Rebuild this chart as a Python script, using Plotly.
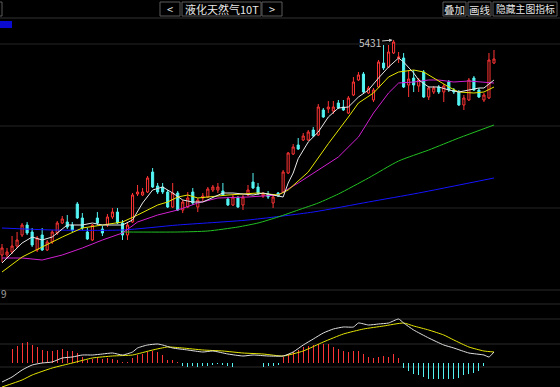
import plotly.graph_objects as go

W, H = 560, 387

# ---------------- data ----------------
idx = list(range(99))

opens = [4786, 4786, 4795, 4813, 4846, 4876, 4855, 4801, 4846, 4801,
         4825, 4852, 4882, 4885, 4876, 4939, 4897, 4855, 4831, 4897,
         4864, 4876, 4900, 4915, 4882, 4846, 4885, 4969, 4966, 4975,
         5035, 4993, 4990, 4975, 4930, 4972, 4921, 4930, 4975, 4930,
         4957, 4960, 4981, 4981, 4978, 4954, 4936, 4957, 4936, 4966,
         5005, 4990, 4963, 4969, 4942, 4972, 4975, 5032, 5089, 5116,
         5131, 5131, 5161, 5146, 5221, 5224, 5218, 5242, 5230, 5212,
         5266, 5311, 5329, 5272, 5251, 5290, 5362, 5350, 5392, 5377,
         5377, 5296, 5317, 5293, 5335, 5260, 5275, 5290, 5275, 5305,
         5281, 5275, 5236, 5251, 5317, 5281, 5251, 5257, 5362]

closes = [4807, 4795, 4813, 4831, 4876, 4852, 4816, 4837, 4801, 4825,
          4855, 4882, 4894, 4870, 4861, 4897, 4867, 4834, 4876, 4882,
          4852, 4900, 4915, 4882, 4846, 4876, 4966, 4975, 4975, 5017,
          4990, 4975, 4975, 4930, 4972, 4921, 4945, 4957, 4942, 4951,
          4963, 4984, 4990, 4990, 4966, 4936, 4960, 4930, 4960, 4981,
          4987, 4972, 4969, 4960, 4960, 4963, 5035, 5092, 5110, 5104,
          5143, 5155, 5143, 5230, 5200, 5230, 5230, 5227, 5221, 5257,
          5305, 5326, 5275, 5287, 5281, 5365, 5347, 5395, 5425, 5380,
          5290, 5314, 5296, 5311, 5260, 5287, 5287, 5275, 5293, 5281,
          5275, 5236, 5257, 5311, 5281, 5260, 5266, 5371, 5374]

highs = [4819, 4807, 4843, 4855, 4882, 4885, 4867, 4843, 4867, 4831,
         4861, 4888, 4903, 4906, 4885, 4945, 4912, 4867, 4879, 4915,
         4873, 4909, 4927, 4927, 4891, 4885, 4972, 4996, 4987, 5023,
         5047, 5002, 5002, 4981, 5002, 4978, 4951, 4975, 4987, 4957,
         4972, 4990, 4996, 5002, 5002, 4960, 4966, 4963, 4966, 4996,
         5032, 5002, 4975, 4978, 4966, 4975, 5041, 5095, 5119, 5137,
         5152, 5161, 5170, 5239, 5227, 5248, 5248, 5251, 5251, 5263,
         5320, 5335, 5335, 5293, 5287, 5371, 5416, 5416, 5431, 5395,
         5392, 5341, 5341, 5317, 5341, 5293, 5293, 5296, 5299, 5311,
         5287, 5281, 5266, 5317, 5323, 5287, 5272, 5392, 5401]

lows = [4765, 4777, 4789, 4807, 4840, 4846, 4810, 4795, 4798, 4798,
        4819, 4846, 4879, 4864, 4855, 4894, 4861, 4831, 4828, 4876,
        4843, 4870, 4894, 4879, 4831, 4831, 4882, 4963, 4963, 4972,
        4987, 4969, 4969, 4927, 4927, 4918, 4912, 4927, 4936, 4915,
        4948, 4957, 4975, 4972, 4963, 4933, 4933, 4927, 4921, 4963,
        4984, 4966, 4957, 4954, 4927, 4960, 4972, 5029, 5086, 5101,
        5128, 5128, 5140, 5143, 5197, 5212, 5209, 5224, 5218, 5209,
        5263, 5308, 5269, 5269, 5245, 5287, 5341, 5347, 5389, 5362,
        5287, 5260, 5275, 5275, 5257, 5251, 5269, 5269, 5245, 5275,
        5269, 5233, 5221, 5248, 5278, 5257, 5245, 5254, 5359]

ma5_idx = [0, 4, 6, 8, 10, 13, 16, 18, 20, 22, 24, 26, 28, 30, 32, 34, 36, 38, 40, 44,
           46, 50, 52, 54, 56, 57, 58, 59, 61, 63, 65, 67, 69, 71, 73, 75, 77, 79, 80, 82,
           83, 85, 87, 89, 91, 93, 95, 96, 98]
ma5_val = [4762, 4822, 4840, 4831, 4840, 4876, 4876, 4882, 4876, 4876, 4876, 4891, 4942, 4981,
           4990, 4972, 4951, 4945, 4945, 4972, 4972, 4966, 4972, 4966, 4960, 5002, 5032, 5075,
           5125, 5155, 5200, 5227, 5230, 5260, 5281, 5317, 5350, 5377, 5365, 5332, 5311, 5290,
           5290, 5281, 5275, 5281, 5287, 5287, 5311]

ma10_idx = [0, 4, 8, 12, 16, 20, 24, 27, 31, 33, 35, 37, 39, 45, 51, 55, 57, 61, 65, 69,
            71, 74, 77, 79, 82, 84, 86, 89, 91, 94, 96, 98]
ma10_val = [4735, 4780, 4810, 4840, 4867, 4876, 4885, 4906, 4936, 4945, 4960, 4966, 4957,
            4966, 4972, 4966, 4981, 5035, 5120, 5200, 5242, 5272, 5320, 5335, 5341, 5335,
            5317, 5290, 5275, 5272, 5275, 5290]

ma20_idx = [0, 4, 8, 12, 16, 20, 24, 27, 31, 35, 39, 43, 49, 53, 55, 59, 63, 67, 71, 74,
            77, 79, 82, 85, 87, 90, 93, 95, 98]
ma20_val = [4777, 4777, 4771, 4786, 4807, 4831, 4852, 4885, 4906, 4921, 4942, 4957, 4960,
            4963, 4966, 5002, 5041, 5080, 5140, 5212, 5272, 5302, 5305, 5311, 5311, 5305,
            5308, 5305, 5302]

ma60_idx = [24, 35, 41, 47, 51, 55, 59, 63, 67, 73, 79, 85, 91, 98]
ma60_val = [4855, 4855, 4858, 4870, 4882, 4900, 4921, 4942, 4969, 5017, 5068, 5101, 5137, 5176]

ma120_idx = [0, 10, 24, 35, 49, 62, 73, 83, 98]
ma120_val = [4867, 4861, 4861, 4876, 4891, 4915, 4945, 4972, 5017]

dif_idx = [0, 2, 4, 6, 8, 10, 12, 14, 16, 18, 20, 22, 24, 26, 27, 29, 31, 32, 34, 37, 40,
           42, 45, 48, 50, 53, 56, 58, 60, 62, 64, 66, 68, 70, 71, 73, 75, 77, 79, 80, 82,
           85, 88, 90, 93, 96, 97, 98]
dif_val = [-38, -28, -14, -4, 0, 2, 10, 12, 16, 16, 18, 20, 16, 22, 30, 36, 38, 36, 30, 26,
           22, 24, 18, 14, 16, 14, 14, 22, 36, 48, 60, 68, 72, 72, 80, 76, 78, 80, 88, 80,
           66, 50, 36, 30, 20, 16, 12, 22]

dea_idx = [0, 4, 6, 10, 14, 18, 22, 26, 30, 33, 36, 40, 44, 48, 52, 56, 60, 64, 68, 72, 76,
           80, 82, 85, 88, 90, 93, 96, 98]
dea_val = [-48, -34, -24, -10, 0, 10, 14, 16, 26, 32, 30, 26, 24, 20, 18, 14, 24, 42, 58, 68,
           74, 80, 74, 66, 56, 46, 32, 24, 22]

macd_hist = [21, 23, 29, 34, 41, 43, 36, 33, 26, 25, 24, 26, 28, 25, 24, 21, 13, 7, 9, 11,
             9, 11, 9, 7, 3, 3, 11, 16, 19, 23, 25, 23, 16, 6, 6, 3,
             -6, -7, -6, -7, -6, -5, -4, -2, -3, -6, -8, -8, -7, -6, -6, -7, -7, -6, -5, -3,
             13, 18, 23, 27, 33, 34, 36, 39, 39, 38, 33, 29, 25, 23, 25, 25, 18, 13, 11, 13,
             14, 13, 18, 11,
             -9, -15, -21, -24, -27, -31, -32, -32, -32, -32, -31, -29, -24, -21, -19, -15,
             -6, -2, 1]

high_label = "5431"
title_text = "液化天然气10T"
buttons_right = ["叠加", "画线", "隐藏主图指标"]

# ---------------- styling ----------------
RED = "#ff3434"
CYAN = "#54f4f4"
FONT = "Noto Sans CJK SC"


def px(x):
    return x / W


def py(y):
    return 1 - y / H


fig = go.Figure()

fig.add_trace(go.Candlestick(
    x=idx, open=opens, high=highs, low=lows, close=closes,
    increasing=dict(line=dict(color=RED, width=1), fillcolor="#000000"),
    decreasing=dict(line=dict(color=CYAN, width=1), fillcolor=CYAN),
    whiskerwidth=0, hoverinfo="skip", xaxis="x", yaxis="y"))

for xs, ys, col, shape in [
    (ma120_idx, ma120_val, "#1414ff", "spline"),
    (ma60_idx, ma60_val, "#22c022", "spline"),
    (ma20_idx, ma20_val, "#d020d0", "linear"),
    (ma10_idx, ma10_val, "#e6e600", "linear"),
    (ma5_idx, ma5_val, "#e8e8e8", "linear"),
]:
    fig.add_trace(go.Scatter(x=xs, y=ys, mode="lines",
                             line=dict(color=col, width=1, shape=shape, smoothing=0.6),
                             hoverinfo="skip", xaxis="x", yaxis="y"))

fig.add_trace(go.Bar(x=idx, y=macd_hist, width=0.18,
                     marker=dict(color=[RED if v >= 0 else CYAN for v in macd_hist],
                                 line=dict(width=0)),
                     hoverinfo="skip", xaxis="x", yaxis="y2"))
fig.add_trace(go.Scatter(x=dea_idx, y=dea_val, mode="lines",
                         line=dict(color="#e6e600", width=1, shape="spline", smoothing=0.5),
                         hoverinfo="skip", xaxis="x", yaxis="y2"))
fig.add_trace(go.Scatter(x=dif_idx, y=dif_val, mode="lines",
                         line=dict(color="#e0e0e0", width=1, shape="spline", smoothing=0.5),
                         hoverinfo="skip", xaxis="x", yaxis="y2"))

shapes = []
# grid lines
for y, c in [(18, "#333333"), (44, "#242424"), (126, "#242424"), (208, "#242424"),
             (290, "#2a2a2a"), (304, "#2a2a2a"), (319, "#2a2a2a"), (344, "#2a2a2a"),
             (367, "#2a2a2a")]:
    shapes.append(dict(type="line", xref="paper", yref="paper", x0=0, x1=1,
                       y0=py(y), y1=py(y), line=dict(color=c, width=1), layer="below"))

# toolbar buttons
btns = [(-10, 2, "", 11), (160, 180, "<", 11), (182, 261, title_text, 11), (262, 282, ">", 11),
        (443, 466, buttons_right[0], 10.5), (468, 491, buttons_right[1], 10.5),
        (493, 557, buttons_right[2], 9.8)]
annotations = []
for x0, x1, t, fs in btns:
    shapes.append(dict(type="rect", xref="paper", yref="paper", x0=px(x0), x1=px(x1),
                       y0=py(16), y1=py(2), line=dict(color="#5a5a5a", width=1),
                       fillcolor="#000000"))
    if t:
        annotations.append(dict(x=px((x0 + x1) / 2), y=py(9), xref="paper", yref="paper",
                                text=t, showarrow=False, xanchor="center", yanchor="middle",
                                font=dict(family=FONT, size=fs, color="#e6e6e6")))

# small blue tag top-left
shapes.append(dict(type="rect", xref="paper", yref="paper", x0=0, x1=px(12),
                   y0=py(28), y1=py(21), line=dict(width=0), fillcolor="#0a0ad0"))

annotations.append(dict(x=78, y=5431, xref="x", yref="y", text=high_label,
                        showarrow=True, ax=-24, ay=2, arrowhead=2, arrowsize=0.7,
                        arrowwidth=1, arrowcolor="#c8c8c8", standoff=1,
                        font=dict(family=FONT, size=10, color="#c8c8c8")))
annotations.append(dict(x=px(-1), y=py(293), xref="paper", yref="paper", text="9",
                        showarrow=False, xanchor="left", yanchor="middle",
                        font=dict(family=FONT, size=10, color="#a0a0a0")))

fig.update_layout(
    width=W, height=H, margin=dict(l=0, r=0, t=0, b=0),
    paper_bgcolor="#000000", plot_bgcolor="#000000", showlegend=False,
    boxgap=0.4, bargap=0, hovermode=False,
    xaxis=dict(range=[-0.4, 111.15], visible=False, showgrid=False, zeroline=False,
               rangeslider=dict(visible=False), fixedrange=True),
    yaxis=dict(domain=[py(290), py(19)], range=[4681, 5494], visible=False,
               showgrid=False, zeroline=False, fixedrange=True),
    yaxis2=dict(domain=[0, py(297)], range=[-48, 132], visible=False, anchor="x",
                showgrid=False, zeroline=False, fixedrange=True),
    shapes=shapes, annotations=annotations,
)

fig.write_html("out.html",
               config={"displayModeBar": False, "staticPlot": True},
               post_script="document.body.style.margin='0';"
                           "document.body.style.padding='0';"
                           "document.body.style.overflow='hidden';"
                           "document.body.style.background='#000';")
